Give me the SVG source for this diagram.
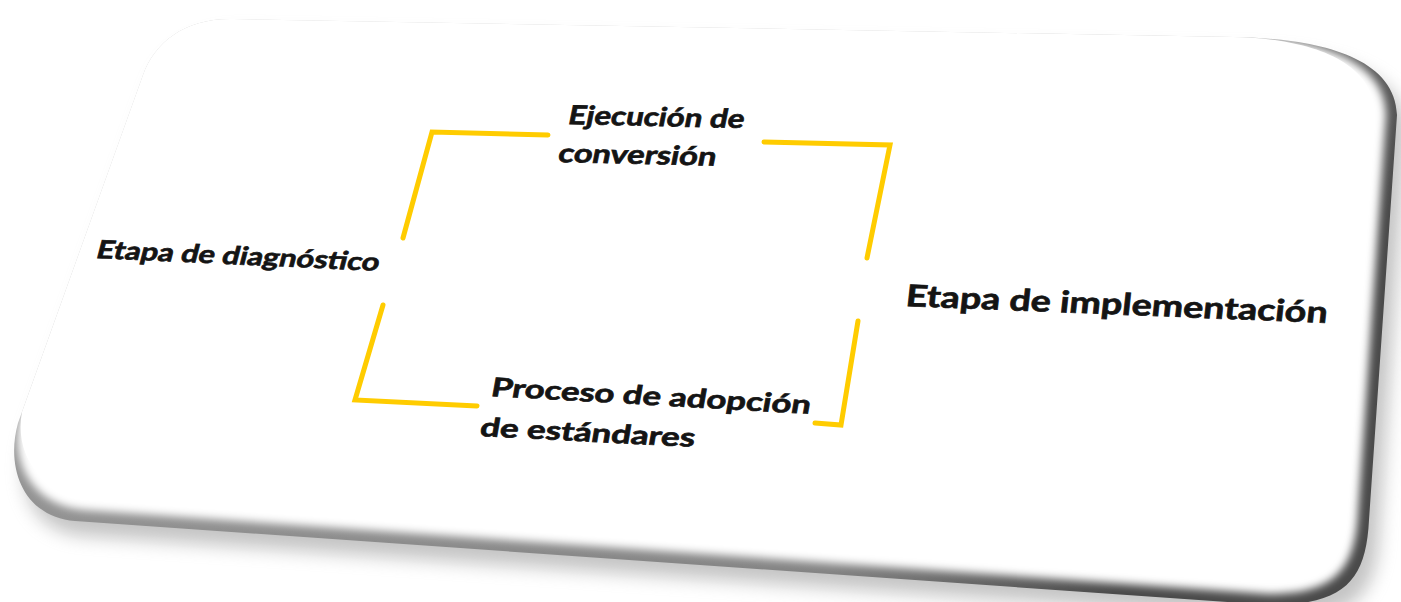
<svg xmlns="http://www.w3.org/2000/svg" width="1401" height="602" viewBox="0 0 1401 602">
  <defs>
    <filter id="soft" x="-5%" y="-10%" width="110%" height="120%">
      <feGaussianBlur stdDeviation="4"/>
    </filter>
    <filter id="shadow" x="-10%" y="-20%" width="120%" height="140%">
      <feGaussianBlur stdDeviation="9"/>
    </filter>
    <linearGradient id="bevel" x1="0" y1="0" x2="1" y2="0.3">
      <stop offset="0" stop-color="#9a9a9a"/>
      <stop offset="0.8" stop-color="#848484"/>
      <stop offset="1" stop-color="#4a4a4a"/>
    </linearGradient>
    <style>
      .lbl { font-family: Lato, "Open Sans", "Liberation Sans", sans-serif; font-weight: 700; fill: #141414; stroke: #141414; stroke-width: 0.7; }
      .br { fill: none; stroke: #FFCC00; stroke-width: 5; stroke-linecap: round; stroke-linejoin: miter; }
    </style>
  </defs>
  <rect width="1401" height="602" fill="#ffffff"/>

  <g id="card">
    <path d="M 243,34 L 1243,52 C 1310,53 1405,65 1407,130 L 1379,535 C 1376,595 1355,619 1280,619 L 85,536 C 35,532 15,495 28,438 L 153,90 C 165,57 195,33 243,34 Z" fill="#8a8a8a" opacity="0.5" filter="url(#shadow)"/>
    <path d="M 233,19 L 1233,37 C 1300,38 1395,50 1397,115 L 1369,520 C 1366,580 1345,605 1270,605 L 75,521 C 25,517 5,470 18,423 L 143,75 C 155,42 185,18 233,19 Z" fill="url(#bevel)"/>
    <path d="M 233,19 L 1233,37 C 1295,38 1385,51 1386,115 L 1358,512 C 1355,570 1335,594 1268,594 L 85,510 C 32,506 10,462 20,418 L 143,75 C 155,42 185,18 233,19 Z" fill="#ffffff" filter="url(#soft)"/>
    <path d="M 233,19 L 1233,37 C 1290,38 1374,52 1375,115 L 1347,505 C 1344,560 1325,582 1265,582 L 95,498 C 40,494 14,455 22,412 L 143,75 C 155,42 185,18 233,19 Z" fill="#ffffff"/>
  </g>

  <g id="connectors">
    <polyline class="br" points="403,238 432,132 548,135"/>
    <polyline class="br" points="764,142 890,145 867,258"/>
    <polyline class="br" points="858,321 841,425 815,423"/>
    <polyline class="br" points="383,305 355,400 477,406"/>
  </g>

  <g id="node-diagnostico">
    <g transform="translate(95,258) rotate(2.6) skewX(-12)">
      <text class="lbl" x="0" y="0" font-size="25" textLength="283" lengthAdjust="spacingAndGlyphs">Etapa de diagnóstico</text>
    </g>
  </g>

  <g id="node-ejecucion">
    <g transform="translate(567,124) rotate(1.3) skewX(-10)">
      <text class="lbl" x="0" y="0" font-size="26" textLength="176" lengthAdjust="spacingAndGlyphs">Ejecución de</text>
    </g>
    <g transform="translate(557,162) rotate(1.3) skewX(-10)">
      <text class="lbl" x="0" y="0" font-size="26" textLength="158" lengthAdjust="spacingAndGlyphs">conversión</text>
    </g>
  </g>

  <g id="node-implementacion">
    <g transform="translate(905,306) rotate(2.3) skewX(-4)">
      <text class="lbl" x="0" y="0" font-size="30" textLength="422" lengthAdjust="spacingAndGlyphs">Etapa de implementación</text>
    </g>
  </g>

  <g id="node-adopcion">
    <g transform="translate(490,396) rotate(3.2) skewX(-7)">
      <text class="lbl" x="0" y="0" font-size="26" textLength="320" lengthAdjust="spacingAndGlyphs">Proceso de adopción</text>
    </g>
    <g transform="translate(479,436) rotate(2.9) skewX(-7)">
      <text class="lbl" x="0" y="0" font-size="26" textLength="215" lengthAdjust="spacingAndGlyphs">de estándares</text>
    </g>
  </g>
</svg>
